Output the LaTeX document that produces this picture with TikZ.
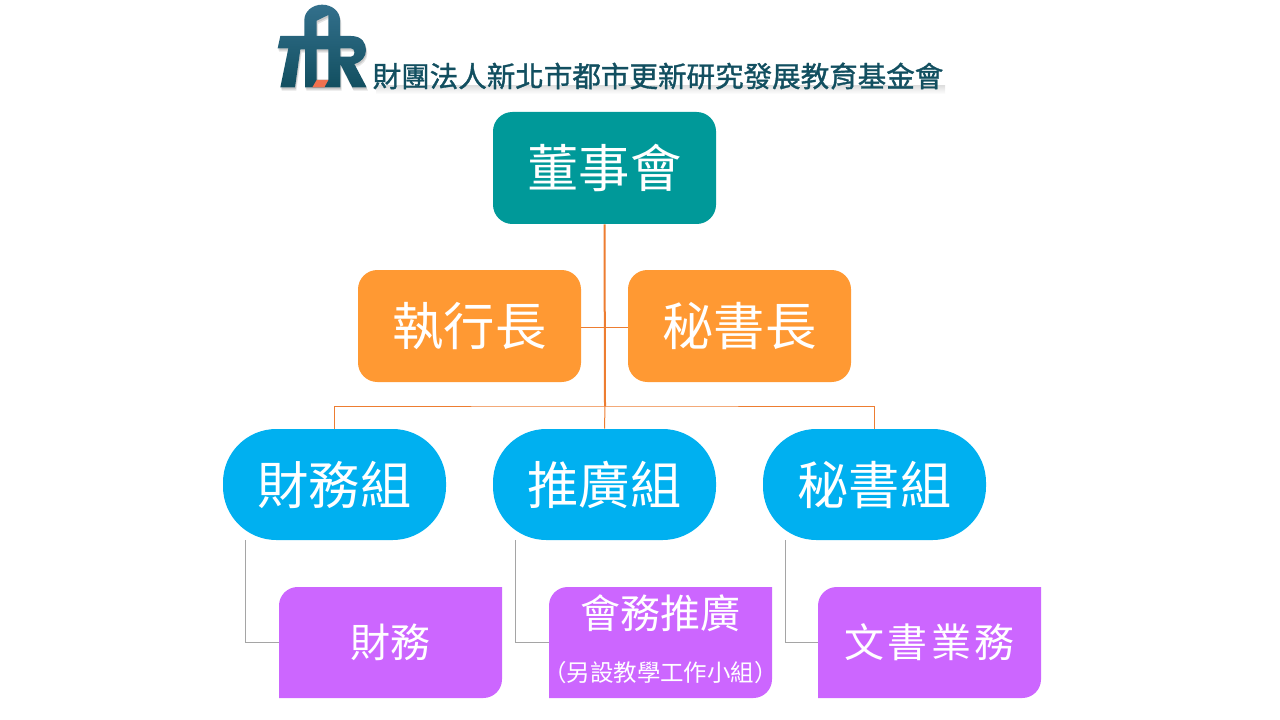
\documentclass[tikz,border=0pt]{standalone}
\usepackage{fontspec}
\newfontfamily\cjk{Noto Sans CJK TC}
\newfontfamily\cjkt[FakeBold=1.2]{Noto Sans CJK TC}
\usetikzlibrary{calc}
\definecolor{teal1}{HTML}{009999}
\definecolor{orange1}{HTML}{FF9933}
\definecolor{blue1}{HTML}{00B0F0}
\definecolor{purple1}{HTML}{CC66FF}
\definecolor{link1}{HTML}{ED7D31}
\definecolor{link2}{HTML}{A5A5A5}
\definecolor{logotop}{HTML}{33708C}
\definecolor{logobot}{HTML}{124F60}
\definecolor{logored}{HTML}{F0714F}
\tikzset{
  box/.style={rectangle,inner sep=0pt,minimum width=167.25pt,minimum height=83.6pt,text=white,font=\cjk\fontsize{38.5}{46}\selectfont},
  boardbox/.style={box,fill=teal1,rounded corners=14.5pt,minimum height=84pt},
  officer/.style={box,fill=orange1,rounded corners=14.5pt,minimum height=84pt},
  groupbox/.style={box,fill=blue1,rounded corners=40pt,minimum height=83.25pt},
  taskbox/.style={box,minimum height=83.25pt,font=\cjk\fontsize{30}{36}\selectfont,
    path picture={
      \coordinate (nw) at (path picture bounding box.north west);
      \coordinate (se) at (path picture bounding box.south east);
      \fill[purple1] (nw |- se) -- ($(nw)+(0,-14pt)$) arc[start angle=180,end angle=90,radius=14pt] -- (nw -| se) -- ($(se)+(0,14pt)$) arc[start angle=0,end angle=-90,radius=14pt] -- cycle;}},
  strong/.style={draw=link1,line width=1.5pt},
  thin1/.style={draw=link1,line width=.75pt},
  thin2/.style={draw=link2,line width=.75pt}
}
\newcommand{\logopath}{
  (46,108) -- (118,108) -- (118,60) arc[start angle=180,end angle=360,x radius=53.5,y radius=46] -- (225,108) -- (258,108)
  .. controls (290,108) and (303,128) .. (303,150) .. controls (303,170) and (290,186) .. (268,192)
  -- (305,262) -- (262,262) -- (226,192) -- (226,262) -- (120,262) -- (120,148) -- (106,148) -- (90,262) -- (46,262) -- (70,145) -- (38,145) -- cycle
  (155,62) -- (190,45) -- (190,108) -- (155,108) -- cycle
  (155,148) -- (190,148) -- (190,240) -- (155,240) -- cycle
  (226,145) -- (258,145) .. controls (272,145) and (272,170) .. (258,170) -- (226,170) -- cycle
}
\begin{document}
\begin{tikzpicture}[x=.75pt,y=-.75pt]
\useasboundingbox (0,0) rectangle (1280,720);
% logo
\begin{scope}[shift={(265,0)},x=.25pt,y=-.25pt]
  \fill[black,opacity=.10,even odd rule,shift={(4,10)}] \logopath;
  \fill[black,opacity=.12,even odd rule,shift={(2,6)}] \logopath;
  \path[even odd rule,top color=logotop,bottom color=logobot] \logopath;
  \fill[logored] (155,240) -- (190,240) -- (178,262) -- (142,262) -- cycle;
\end{scope}
\path[top color=black!12,bottom color=white] (376,86) rectangle (945,94);
\node[inner sep=0pt,text=logobot,font=\cjkt\fontsize{21.4}{26}\selectfont] (title) at (658,76) {財團法人新北市都市更新研究發展教育基金會};
% nodes
\node[boardbox] (board) at (604.5,168) {董事會};
\node[officer] (ceo) at (469.5,326) {執行長};
\node[officer] (sec) at (739.5,326) {秘書長};
\coordinate (bus) at (605,406);
\node[groupbox] (g1) at (334.5,484.5) {財務組};
\node[groupbox] (g2) at (604.5,484.5) {推廣組};
\node[groupbox] (g3) at (874.5,484.5) {秘書組};
\node[taskbox] (t1) at (390.5,642.5) {財務};
\node[taskbox,align=center] (t2) at (660.5,642.5) {\raisebox{-3pt}{會務推廣}\\[7.25pt]\makebox[167pt][c]{\fontsize{17.6}{20}\selectfont\rule[-6.8pt]{0pt}{0pt}（另設教學工作小組）}};
\node[taskbox] (t3) at (929.5,642.5) {\addfontfeature{LetterSpace=8}文書業務};
% connectors
\coordinate (b1) at (245.5,540);
\coordinate (b2) at (515.5,540);
\coordinate (b3) at (785.5,540);
\draw[strong] (board.south) -- (bus);
\draw[thin1] (bus) -- (g2.north);
\draw[thin1] (g1.north) |- (bus) -| (g3.north);
\draw[thin1] ($(ceo.east)+(0,1)$) -- ($(sec.west)+(0,1)$);
\draw[thin2] (b1) |- (t1.west);
\draw[thin2] (b2) |- (t2.west);
\draw[thin2] (b3) |- (t3.west);
\end{tikzpicture}
\end{document}
